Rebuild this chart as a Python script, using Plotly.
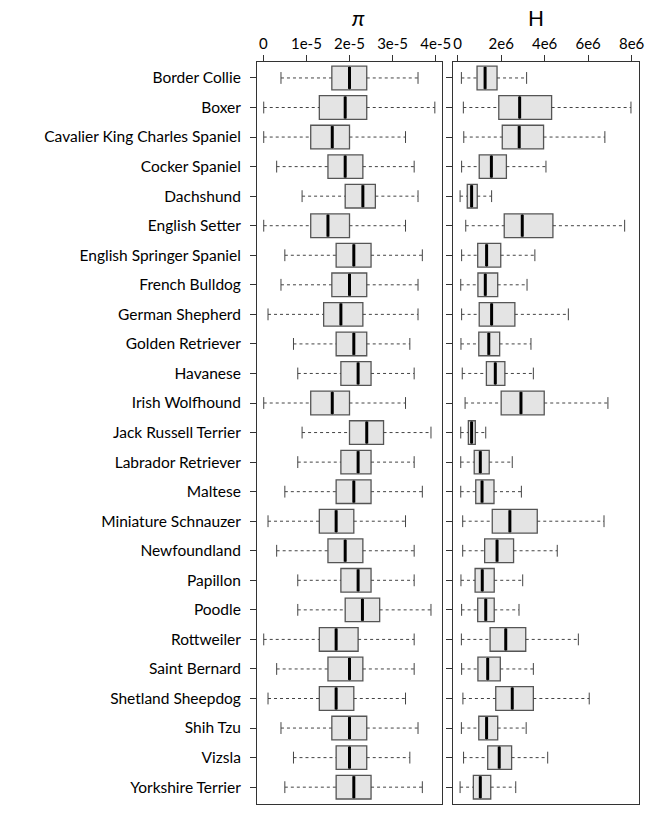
import plotly.graph_objects as go

breeds = ["Border Collie", "Boxer", "Cavalier King Charles Spaniel", "Cocker Spaniel",
          "Dachshund", "English Setter", "English Springer Spaniel", "French Bulldog",
          "German Shepherd", "Golden Retriever", "Havanese", "Irish Wolfhound",
          "Jack Russell Terrier", "Labrador Retriever", "Maltese", "Miniature Schnauzer",
          "Newfoundland", "Papillon", "Poodle", "Rottweiler", "Saint Bernard",
          "Shetland Sheepdog", "Shih Tzu", "Vizsla", "Yorkshire Terrier"]

# pi statistics (units of 1e-5)
pi_low = [0.41, 0.01, 0.01, 0.31, 0.90, 0.01, 0.50, 0.41, 0.11, 0.70, 0.80, 0.01, 0.90,
          0.80, 0.50, 0.11, 0.31, 0.80, 0.80, 0.01, 0.31, 0.11, 0.41, 0.70, 0.50]
pi_q1 = [1.59, 1.30, 1.10, 1.50, 1.90, 1.10, 1.69, 1.59, 1.40, 1.69, 1.80, 1.10, 2.00,
         1.80, 1.69, 1.30, 1.50, 1.80, 1.90, 1.30, 1.50, 1.30, 1.59, 1.69, 1.69]
pi_med = [2.00, 1.90, 1.60, 1.90, 2.31, 1.50, 2.10, 2.00, 1.80, 2.10, 2.20, 1.60, 2.40,
          2.20, 2.10, 1.69, 1.90, 2.20, 2.30, 1.69, 2.00, 1.69, 2.00, 2.00, 2.10]
pi_q3 = [2.40, 2.40, 2.00, 2.31, 2.60, 2.00, 2.50, 2.40, 2.31, 2.40, 2.50, 2.00, 2.79,
         2.50, 2.50, 2.10, 2.31, 2.50, 2.70, 2.20, 2.31, 2.10, 2.40, 2.40, 2.50]
pi_high = [3.59, 3.98, 3.30, 3.50, 3.59, 3.30, 3.69, 3.59, 3.59, 3.40, 3.50, 3.30, 3.89,
           3.50, 3.69, 3.30, 3.50, 3.50, 3.89, 3.50, 3.50, 3.30, 3.59, 3.40, 3.69]
PI_UNIT = 1e-5

# H statistics (units of 1e6)
h_low = [0.17, 0.26, 0.28, 0.18, 0.11, 0.37, 0.18, 0.14, 0.18, 0.15, 0.21, 0.34, 0.14,
         0.14, 0.14, 0.23, 0.23, 0.15, 0.18, 0.17, 0.18, 0.24, 0.17, 0.27, 0.11]
h_q1 = [0.89, 1.89, 2.05, 0.99, 0.44, 2.14, 0.92, 0.93, 0.99, 0.97, 1.32, 2.00, 0.49,
        0.76, 0.83, 1.59, 1.24, 0.80, 0.92, 1.49, 0.93, 1.75, 0.97, 1.38, 0.72]
h_med = [1.26, 2.85, 2.83, 1.55, 0.64, 2.97, 1.33, 1.27, 1.56, 1.43, 1.73, 2.91, 0.64,
         1.04, 1.12, 2.40, 1.81, 1.13, 1.29, 2.21, 1.38, 2.51, 1.33, 1.91, 1.04]
h_q3 = [1.81, 4.32, 3.95, 2.24, 0.90, 4.38, 1.98, 1.84, 2.63, 1.93, 2.17, 3.98, 0.81,
        1.45, 1.67, 3.66, 2.57, 1.68, 1.68, 3.13, 1.96, 3.48, 1.84, 2.48, 1.52]
h_high = [3.17, 7.97, 6.77, 4.06, 1.56, 7.68, 3.55, 3.19, 5.09, 3.37, 3.48, 6.91, 1.29,
          2.51, 2.93, 6.73, 4.58, 2.99, 2.82, 5.55, 3.48, 6.05, 3.15, 4.14, 2.67]
H_UNIT = 1e6

pi_ticks = [0, 1e-5, 2e-5, 3e-5, 4e-5]
pi_ticktext = ["0", "1e-5", "2e-5", "3e-5", "4e-5"]
h_ticks = [0, 2e6, 4e6, 6e6, 8e6]
h_ticktext = ["0", "2e6", "4e6", "6e6", "8e6"]

pos = list(range(len(breeds)))
BOXW = 0.8
CAPW = 0.4
FILL = "#e4e4e4"
EDGE = "#555555"
WHISK = "#444444"

fig = go.Figure()


def add_panel(low, q1, med, q3, high, unit, xa, ya):
    lo = [v * unit for v in low]
    a = [v * unit for v in q1]
    m = [v * unit for v in med]
    b = [v * unit for v in q3]
    hi = [v * unit for v in high]
    # whiskers (dashed)
    wx, wy = [], []
    for i in pos:
        wx += [lo[i], a[i], None, b[i], hi[i], None]
        wy += [i, i, None, i, i, None]
    fig.add_trace(go.Scatter(x=wx, y=wy, mode="lines", xaxis=xa, yaxis=ya,
                             line=dict(color=WHISK, width=1, dash="3px,3px"),
                             hoverinfo="skip", showlegend=False))
    # caps
    cx, cy = [], []
    for i in pos:
        cx += [lo[i], lo[i], None, hi[i], hi[i], None]
        cy += [i - CAPW / 2, i + CAPW / 2, None, i - CAPW / 2, i + CAPW / 2, None]
    fig.add_trace(go.Scatter(x=cx, y=cy, mode="lines", xaxis=xa, yaxis=ya,
                             line=dict(color=WHISK, width=1),
                             hoverinfo="skip", showlegend=False))
    # boxes
    fig.add_trace(go.Box(y=pos, q1=a, median=m, q3=b, lowerfence=a, upperfence=b,
                         orientation="h", xaxis=xa, yaxis=ya, width=BOXW,
                         fillcolor=FILL, line=dict(color=EDGE, width=1.3),
                         whiskerwidth=0, boxpoints=False, showlegend=False))
    # medians
    mx, my = [], []
    for i in pos:
        mx += [m[i], m[i], None]
        my += [i - BOXW / 2 + 0.03, i + BOXW / 2 - 0.03, None]
    fig.add_trace(go.Scatter(x=mx, y=my, mode="lines", xaxis=xa, yaxis=ya,
                             line=dict(color="black", width=3),
                             hoverinfo="skip", showlegend=False))


add_panel(pi_low, pi_q1, pi_med, pi_q3, pi_high, PI_UNIT, "x", "y")
add_panel(h_low, h_q1, h_med, h_q3, h_high, H_UNIT, "x2", "y2")

W, H = 649, 815
ml, mr, mt, mb = 257, 10, 62, 11
pw = W - ml - mr
d1 = [0, (442 - ml) / pw]
d2 = [(453 - ml) / pw, 1.0]

font = "Lato, Open Sans, sans-serif"
xcommon = dict(side="top", showgrid=False, zeroline=False, showline=True, mirror=True,
               linecolor="#333333", linewidth=1, ticks="outside", ticklen=6,
               tickcolor="#333333", automargin=False,
               tickfont=dict(size=15, color="black", family=font))
ycommon = dict(showgrid=False, zeroline=False, showline=True, mirror=True,
               linecolor="#333333", linewidth=1, ticks="outside", ticklen=6,
               tickcolor="#333333", range=[24.57, -0.54], tickvals=pos,
               automargin=False)

fig.update_layout(
    width=W, height=H, autosize=False,
    margin=dict(l=ml, r=mr, t=mt, b=mb, autoexpand=False),
    plot_bgcolor="white", paper_bgcolor="white",
    xaxis=dict(domain=d1, range=[-0.146e-5, 4.146e-5], tickvals=pi_ticks,
               ticktext=pi_ticktext, anchor="y", **xcommon),
    xaxis2=dict(domain=d2, range=[-0.216e6, 8.34e6], tickvals=h_ticks,
                ticktext=h_ticktext, anchor="y2", **xcommon),
    yaxis=dict(anchor="x", ticktext=breeds, ticklabelstandoff=6,
               tickfont=dict(size=15.5, color="black", family=font), **ycommon),
    yaxis2=dict(anchor="x2", showticklabels=False, **ycommon),
    annotations=[
        dict(text="<i>π</i>", x=(d1[0] + d1[1]) / 2, y=1, xref="paper", yref="paper",
             yanchor="middle", yshift=45, showarrow=False,
             font=dict(size=22, color="black", family=font)),
        dict(text="H", x=(d2[0] + d2[1]) / 2, y=1, xref="paper", yref="paper",
             yanchor="middle", yshift=45, showarrow=False,
             font=dict(size=21, color="black", family=font)),
    ],
)

fig.write_html("out.html", config={"displayModeBar": False},
               post_script="document.body.style.margin='0px';")
